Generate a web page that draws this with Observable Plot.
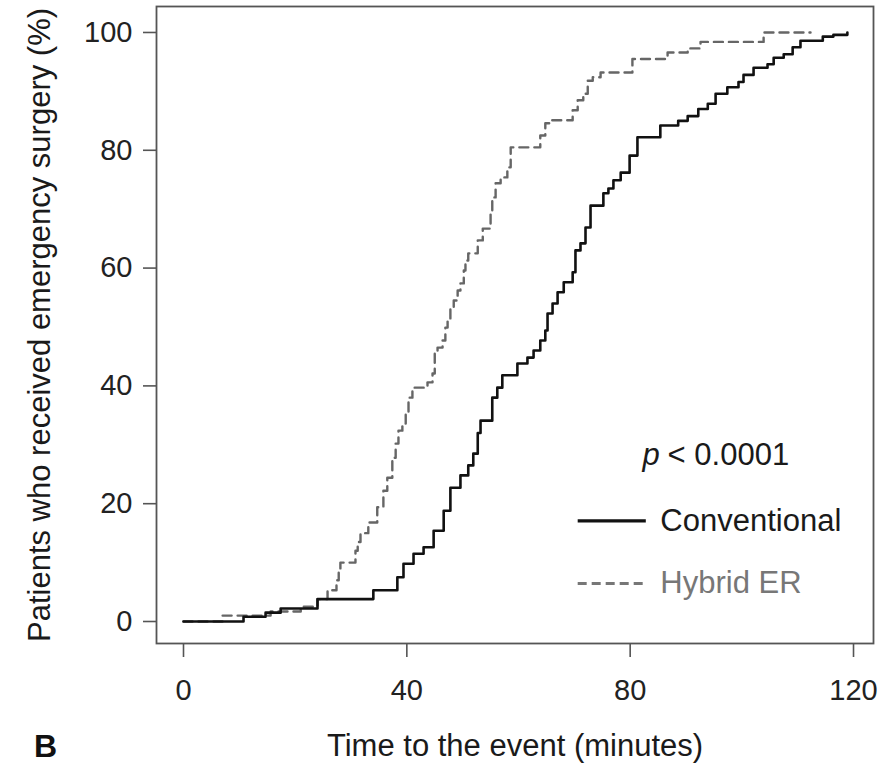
<!DOCTYPE html>
<html><head><meta charset="utf-8">
<script src="https://cdn.jsdelivr.net/npm/d3@7"></script>
<script src="https://cdn.jsdelivr.net/npm/@observablehq/plot@0.6"></script>
<style>body{margin:0;background:#fff} svg{display:block}</style>
</head><body><div id="chart"></div>
<script>
// Cumulative % of patients who received emergency surgery (step-function events)
const convTime = [0, 10.75, 14.7, 17.4, 24.0, 34.0, 38.3, 39.4, 41.2, 43.0, 44.8, 46.6, 47.8, 49.6, 51.0, 51.9, 52.7, 53.2, 55.3, 56.2, 57.1, 59.8, 61.6, 62.7, 63.9, 64.8, 65.2, 66.1, 67.0, 68.1, 69.7, 70.2, 71.1, 72.0, 72.9, 75.2, 76.1, 77.0, 78.3, 79.9, 81.3, 85.4, 88.6, 90.3, 92.2, 93.9, 95.3, 97.4, 99.4, 100.3, 102.1, 104.6, 105.7, 107.5, 109.1, 110.5, 114.5, 116.4, 118.9];
const convPct  = [0, 0.8, 1.5, 2.2, 3.8, 5.3, 7.5, 9.8, 11.5, 12.6, 15.4, 18.8, 22.7, 24.8, 26.5, 28.5, 32, 34.1, 38, 39.7, 41.8, 43.8, 44.8, 46, 47.7, 49.4, 52.3, 54, 55.9, 57.6, 59.3, 63, 64.2, 66.9, 70.6, 72.7, 73.5, 74.9, 76.2, 79.1, 82.2, 84.2, 85.0, 85.8, 87, 87.9, 89.6, 90.7, 91.6, 92.8, 94, 94.6, 95.7, 96.3, 97.5, 98.6, 99.3, 99.6, 100];
const hybTime  = [0, 7.0, 15.6, 21.0, 24.0, 25.8, 27.4, 27.8, 28.1, 30.8, 31.2, 31.7, 33.1, 34.7, 35.8, 36.5, 37.4, 38.0, 38.5, 39.2, 39.8, 40.3, 41.0, 43.7, 44.6, 45.0, 45.5, 46.4, 46.9, 47.3, 47.8, 48.4, 49.1, 49.6, 50.2, 50.5, 51.0, 52.7, 53.6, 55.0, 55.3, 55.9, 56.8, 58.0, 58.6, 63.9, 64.8, 65.7, 69.7, 70.6, 71.6, 72.4, 73.3, 74.7, 80.4, 86.7, 90.3, 92.6, 103.9, 112.3];
const hybPct   = [0, 1, 1.7, 2.5, 3.8, 5.3, 7, 8.7, 10, 12, 13.5, 15, 16.8, 19.4, 22.2, 24.4, 27.8, 30.2, 32.4, 33.6, 35.3, 38, 39.7, 40.6, 42.1, 45.5, 46.5, 47.7, 49.9, 51.1, 53.3, 54.5, 56.2, 57.4, 59.6, 61.3, 62.5, 64.7, 66.7, 69.3, 72, 74.4, 75.4, 77.1, 80.5, 82.5, 84.6, 85.1, 86.8, 88.5, 89.6, 91.8, 92.4, 93.2, 95.5, 96.6, 97.3, 98.4, 100, 100];
const seriesNames = ["Conventional", "Hybrid ER"];
const xTicks = [0, 40, 80, 120];
const yTicks = [0, 20, 40, 60, 80, 100];
const xTitle = "Time to the event (minutes)";
const yTitle = "Patients who received emergency surgery (%)";
const panelLabel = "B";
const pLabelP = "p";
const pLabelRest = "< 0.0001";

// legend placement (data coordinates)
const legX1 = 70.6, legX2 = 82.8, legTextX = 85.4;
const legY = [17.1, 6.45];
const pX = 82.2, pRestX = 86.7, pY = 28.3;

const conv = convTime.map((t, i) => ({time: t, pct: convPct[i], group: seriesNames[0]}));
const hyb = hybTime.map((t, i) => ({time: t, pct: hybPct[i], group: seriesNames[1]}));
const legend = seriesNames.map((name, i) => ({name, y: legY[i]}));

const font = "'Liberation Sans', Arial, Helvetica, sans-serif";
const plot = Plot.plot({
  width: 896, height: 765,
  marginLeft: 156, marginRight: 23, marginTop: 6, marginBottom: 122,
  style: {fontFamily: font, background: "#fff", color: "#222"},
  x: {domain: [-4.836, 123.58]},
  y: {domain: [-3.735, 104.41]},
  marks: [
    Plot.frame({stroke: "#555", strokeWidth: 1.8}),
    Plot.axisX(xTicks, {tickSize: 14, tickPadding: 22, fontSize: 29, stroke: "#555", strokeWidth: 1.6, fill: "#222", label: null, tickFormat: d => String(d)}),
    Plot.axisY(yTicks, {tickSize: 13, tickPadding: 11, fontSize: 29, stroke: "#555", strokeWidth: 1.6, fill: "#222", label: null, tickFormat: d => String(d)}),
    Plot.line(hyb, {x: "time", y: "pct", curve: "step-after", stroke: "#666", strokeWidth: 2.4, strokeDasharray: "9,6"}),
    Plot.line(conv, {x: "time", y: "pct", curve: "step-after", stroke: "#111", strokeWidth: 2.6}),
    Plot.link(legend.slice(0, 1), {x1: () => legX1, x2: () => legX2, y1: "y", y2: "y", stroke: "#111", strokeWidth: 3.2}),
    Plot.link(legend.slice(1, 2), {x1: () => legX1, x2: () => legX2, y1: "y", y2: "y", stroke: "#777", strokeWidth: 3, strokeDasharray: "9,5"}),
    Plot.text(legend, {x: () => legTextX, y: "y", text: "name", textAnchor: "start", lineAnchor: "middle", fontSize: 31,
      fill: d => d.name === seriesNames[0] ? "#1a1a1a" : "#777"}),
    Plot.text([pLabelP], {x: () => pX, y: () => pY, text: d => d, textAnchor: "start", lineAnchor: "middle", fontSize: 31, fontStyle: "italic", fill: "#1a1a1a"}),
    Plot.text([pLabelRest], {x: () => pRestX, y: () => pY, text: d => d, textAnchor: "start", lineAnchor: "middle", fontSize: 31, fill: "#1a1a1a"}),
    Plot.text([xTitle], {frameAnchor: "bottom", dy: 103, text: d => d, textAnchor: "middle", lineAnchor: "middle", fontSize: 31, fill: "#1a1a1a"}),
    Plot.text([yTitle], {frameAnchor: "left", dx: -116, rotate: -90, text: d => d, textAnchor: "middle", lineAnchor: "middle", fontSize: 31, fill: "#1a1a1a"}),
    Plot.text([panelLabel], {frameAnchor: "bottom-left", dx: -111, dy: 103, text: d => d, textAnchor: "middle", lineAnchor: "middle", fontSize: 32, fontWeight: "bold", fill: "#111"})
  ]
});
document.getElementById("chart").appendChild(plot);
</script>
</body></html>
